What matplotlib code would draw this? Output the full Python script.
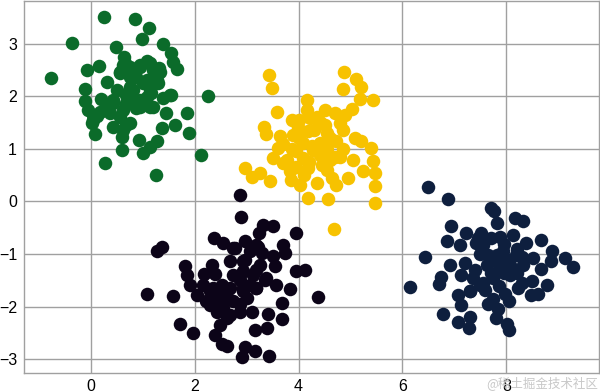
import numpy as np
import matplotlib.pyplot as plt

# blob coordinates
green_x = [0.26, 0.86, 1.12, 0.99, -0.35, 1.40, 0.48, 1.54, 0.65, 1.59, 1.09, 1.67, 0.17,
           -0.06, 1.31, -0.77, 0.32, 0.56, 0.76, 0.95, 1.27, -0.10, 0.76, 1.01, 0.50, 1.54,
           2.25, -0.10, 0.21, 0.43, 0.76, 1.08, 1.40, 0.05, 0.37, 0.63, 0.88, 1.14, 1.46,
           1.85, 0.02, 0.43, 0.69, 1.37, 1.62, 0.08, 0.60, 1.89, 0.93, 1.27, 1.14, 0.61,
           1.01, 0.28, 2.13, 1.25, 0.88, 0.69, 1.14, 0.95, 0.31, 1.20, 0.66, 0.12, -0.05,
           0.63, 0.95, 1.14, 1.33, 0.76, 1.08, 1.30, 0.56, 0.82, 1.17, 0.69, 0.95, 1.20,
           1.52, 0.43, 0.56, 0.76, 0.18, 0.05, 0.63]
green_y = [3.50, 3.47, 3.29, 3.09, 3.01, 2.99, 2.93, 2.82, 2.75, 2.66, 2.67, 2.51, 2.57,
           2.49, 2.53, 2.34, 2.28, 2.47, 2.56, 2.60, 2.31, 2.13, 2.18, 2.25, 2.12, 2.02,
           2.01, 1.91, 1.95, 1.93, 1.93, 1.99, 1.96, 1.64, 1.68, 1.74, 1.77, 1.80, 1.68,
           1.68, 1.49, 1.42, 1.45, 1.40, 1.45, 1.28, 1.23, 1.31, 1.17, 1.14, 1.04, 0.98,
           0.93, 0.74, 0.88, 0.50, 2.37, 2.02, 2.12, 1.93, 1.80, 2.50, 2.63, 1.62, 1.74,
           2.60, 2.56, 2.63, 2.47, 2.37, 2.31, 2.25, 2.44, 2.12, 2.06, 1.87, 1.80, 1.80,
           2.02, 1.87, 1.61, 1.49, 1.71, 1.55, 1.36]

yellow_x = [3.43, 3.49, 4.87, 5.10, 5.20, 4.85, 5.18, 5.43, 5.02, 4.17, 4.17, 3.58, 4.51,
            4.70, 3.88, 4.22, 4.41, 4.79, 3.33, 3.38, 4.86, 3.64, 3.90, 4.18, 4.54, 5.08,
            4.09, 4.41, 4.73, 5.21, 5.40, 3.61, 3.87, 3.51, 3.77, 4.09, 4.41, 4.79, 5.04,
            5.43, 2.97, 3.26, 3.45, 3.83, 4.18, 4.54, 5.24, 5.47, 4.03, 4.35, 4.73, 4.95,
            5.47, 4.18, 4.57, 5.47, 4.68, 3.10, 3.70, 4.60, 4.28, 3.99, 4.89,
            4.00, 4.30, 4.50, 4.00, 4.25, 4.55, 3.95, 4.20, 4.45, 4.70, 3.70, 4.10, 4.65,
            4.85, 3.85, 4.35, 4.60, 3.95]
yellow_y = [2.40, 2.15, 2.46, 2.33, 2.18, 2.14, 1.95, 1.92, 1.75, 1.92, 1.74, 1.71, 1.74,
            1.69, 1.54, 1.58, 1.52, 1.49, 1.42, 1.28, 1.36, 1.25, 1.26, 1.33, 1.30, 1.20,
            1.11, 1.11, 1.14, 1.14, 1.01, 1.01, 0.99, 0.82, 0.79, 0.82, 0.88, 0.85, 0.78,
            0.76, 0.63, 0.54, 0.38, 0.57, 0.63, 0.60, 0.57, 0.54, 0.31, 0.35, 0.31, 0.44,
            0.29, 0.06, 0.04, -0.02, -0.52, 0.46, 0.73, 0.79, 0.98, 1.42, 1.64,
            1.55, 1.35, 1.45, 1.20, 1.05, 1.00, 0.95, 0.75, 0.70, 0.85, 1.10, 0.50, 0.45,
            1.00, 0.40, 1.60, 1.20, 0.65]

black_x = [2.87, 2.90, 3.51, 3.32, 3.95, 2.37, 2.55, 3.24, 2.97, 3.22, 3.70, 1.37, 1.28,
           2.78, 3.29, 3.74, 3.51, 2.68, 2.97, 1.81, 2.33, 3.54, 2.93, 3.19, 3.96, 4.13,
           1.86, 2.18, 2.39, 2.87, 3.35, 1.91, 3.57, 1.09, 1.59, 2.04, 2.36, 2.62, 2.93,
           3.19, 3.83, 4.37, 2.23, 2.55, 2.87, 3.10, 3.69, 2.43, 2.68, 3.42, 1.73, 2.49,
           3.69, 1.97, 3.16, 3.40, 2.39, 2.52, 2.62, 2.97, 3.16, 2.92, 3.43, 2.74, 3.06,
           2.42, 2.52,
           2.74, 3.06, 3.19, 2.93, 3.26, 2.87, 3.13, 3.38, 2.68, 2.93, 3.19, 2.49, 2.74,
           3.00, 2.29, 2.55, 2.87, 2.29, 2.62, 2.17]
black_y = [0.12, -0.30, -0.46, -0.45, -0.59, -0.70, -0.79, -0.60, -0.76, -0.86, -0.83, -0.86,
           -0.95, -0.89, -0.98, -0.98, -1.03, -1.14, -1.11, -1.22, -1.21, -1.23, -1.33, -1.30,
           -1.33, -1.30, -1.40, -1.38, -1.37, -1.49, -1.49, -1.59, -1.59, -1.75, -1.80, -1.78,
           -1.65, -1.71, -1.71, -1.65, -1.66, -1.82, -1.90, -1.90, -1.94, -2.10, -1.92, -2.10,
           -2.16, -2.14, -2.32, -2.35, -2.23, -2.50, -2.44, -2.40, -2.54, -2.70, -2.75, -2.76,
           -2.84, -2.95, -2.94, -1.40, -1.59, -1.90, -1.59,
           -0.89, -0.95, -0.83, -1.14, -1.21, -1.40, -1.40, -1.46, -1.65, -1.65, -1.65, -1.78,
           -1.90, -1.84, -1.71, -2.03, -2.10, -1.97, -2.22, -1.59]

navy_x = [6.49, 6.88, 7.71, 7.76, 6.93, 8.16, 8.32, 7.81, 7.23, 7.51, 6.85, 7.10, 7.42,
          7.87, 8.13, 8.38, 8.66, 8.87, 6.44, 7.65, 7.93, 8.19, 8.51, 8.85, 9.12, 9.27,
          6.91, 7.20, 7.62, 7.87, 8.32, 8.66, 6.14, 6.75, 6.70, 7.13, 7.36, 7.74, 8.06,
          8.50, 8.77, 7.07, 7.29, 7.58, 7.97, 8.22, 8.48, 8.61, 7.13, 7.65, 7.84, 6.77,
          7.07, 7.29, 7.28, 7.79, 8.01, 8.05, 7.49, 7.81, 8.06, 7.55,
          7.70, 7.95, 8.20, 7.50, 7.75, 8.00, 8.30, 7.40, 7.70, 7.95, 8.20, 7.55, 7.85,
          8.30, 7.30, 7.75, 8.05, 7.45]
navy_y = [0.28, 0.05, -0.12, -0.18, -0.46, -0.32, -0.38, -0.41, -0.59, -0.60, -0.75, -0.83,
          -0.79, -0.67, -0.64, -0.79, -0.73, -0.95, -1.05, -1.02, -0.95, -1.02, -1.08, -1.13,
          -1.08, -1.25, -1.21, -1.17, -1.21, -1.24, -1.21, -1.29, -1.63, -1.43, -1.56, -1.40,
          -1.46, -1.46, -1.40, -1.52, -1.59, -1.78, -1.71, -1.68, -1.75, -1.65, -1.78, -1.75,
          -1.97, -1.94, -2.04, -2.13, -2.29, -2.19, -2.41, -2.22, -2.33, -2.44, -1.59, -1.02,
          -1.21, -0.83,
          -0.70, -0.80, -0.90, -1.00, -1.10, -1.10, -1.05, -1.30, -1.35, -1.35, -1.35, -1.55,
          -1.60, -1.55, -1.70, -1.85, -1.90, -0.70]

plt.rcParams['font.family'] = ['Liberation Sans', 'DejaVu Sans']

fig = plt.figure(figsize=(6, 3.92), dpi=100)
ax = fig.add_axes([24 / 600, 19.5 / 392, 574.5 / 600, 371.5 / 392])

ax.scatter(green_x, green_y, s=95, c='#0b6b2a', linewidths=0, zorder=3)
ax.scatter(yellow_x, yellow_y, s=95, c='#f7c200', linewidths=0, zorder=3)
ax.scatter(black_x, black_y, s=95, c='#0c0418', linewidths=0, zorder=3)
ax.scatter(navy_x, navy_y, s=95, c='#0e1f3e', linewidths=0, zorder=3)

ax.set_xlim(-1.28, 9.77)
ax.set_ylim(-3.25, 3.81)
ax.set_xticks([0, 2, 4, 6, 8])
ax.set_yticks([-3, -2, -1, 0, 1, 2, 3])
ax.grid(True, color='#a0a0a0', linewidth=1.0)
ax.set_axisbelow(True)
ax.tick_params(length=0, labelsize=11.5, pad=5)
for s in ax.spines.values():
    s.set_color('#a0a0a0')
    s.set_linewidth(1.0)

fig.text(0.997, 0.005, '@稀土掘金技术社区', ha='right', va='bottom', fontsize=9,
         color='#c8c8c8', family=['Noto Sans CJK SC', 'DejaVu Sans'])

fig.savefig('out.png', dpi=100)
